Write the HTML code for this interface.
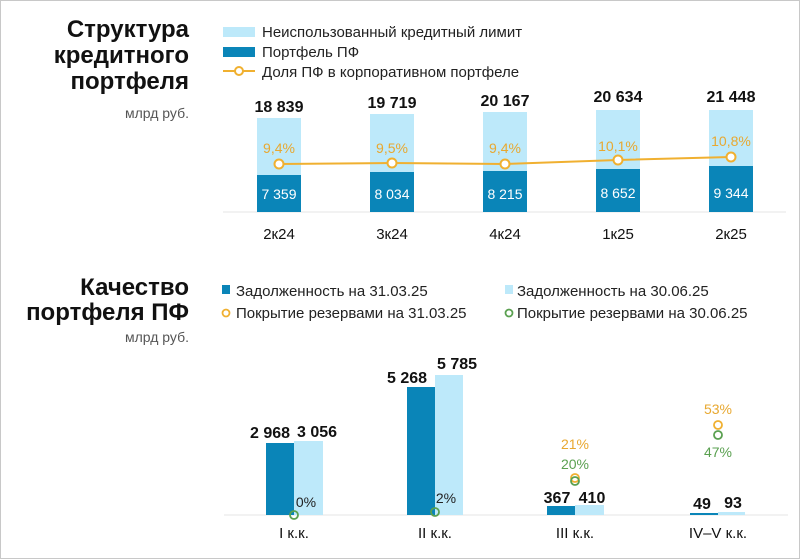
<!DOCTYPE html>
<html><head><meta charset="utf-8"><style>
body{margin:0;background:#fff}
svg{display:block;font-family:"Liberation Sans",sans-serif}
</style></head><body>
<svg width="800" height="559" viewBox="0 0 800 559">
<rect x="0.5" y="0.5" width="799" height="558" fill="#fff" stroke="#c8c8c8"/>
<g font-weight="bold" font-size="24" text-anchor="end" fill="#111">
<text x="189" y="37">Структура</text>
<text x="189" y="63">кредитного</text>
<text x="189" y="89">портфеля</text>
<text x="189" y="295">Качество</text>
<text x="189" y="320">портфеля ПФ</text>
</g>
<g font-size="14" text-anchor="end" fill="#555">
<text x="189" y="118">млрд руб.</text>
<text x="189" y="342">млрд руб.</text>
</g>
<!-- top legend -->
<rect x="223" y="27" width="32" height="10" fill="#bde9fa"/>
<rect x="223" y="47" width="32" height="10" fill="#0a85b8"/>
<line x1="223" y1="71" x2="255" y2="71" stroke="#f0b030" stroke-width="2"/>
<circle cx="239" cy="71" r="4" fill="#fff" stroke="#f0b030" stroke-width="2"/>
<g font-size="15" fill="#222">
<text x="262" y="37">Неиспользованный кредитный лимит</text>
<text x="262" y="57">Портфель ПФ</text>
<text x="262" y="77">Доля ПФ в корпоративном портфеле</text>
</g>
<!-- top bars -->
<line x1="223" y1="212" x2="786" y2="212" stroke="#e4e4e4"/>
<g fill="#bde9fa">
<rect x="257" y="118" width="44" height="94"/>
<rect x="370" y="114" width="44" height="98"/>
<rect x="483" y="112" width="44" height="100"/>
<rect x="596" y="110" width="44" height="102"/>
<rect x="709" y="110" width="44" height="102"/>
</g>
<g fill="#0a85b8">
<rect x="257" y="175" width="44" height="37"/>
<rect x="370" y="172" width="44" height="40"/>
<rect x="483" y="171" width="44" height="41"/>
<rect x="596" y="169" width="44" height="43"/>
<rect x="709" y="166" width="44" height="46"/>
</g>
<polyline points="279,164 392,163 505,164 618,160 731,157" fill="none" stroke="#f0b030" stroke-width="2"/>
<g fill="#fff" stroke="#f0b030" stroke-width="2">
<circle cx="279" cy="164" r="4.5"/><circle cx="392" cy="163" r="4.5"/><circle cx="505" cy="164" r="4.5"/><circle cx="618" cy="160" r="4.5"/><circle cx="731" cy="157" r="4.5"/>
</g>
<g font-size="16" font-weight="bold" text-anchor="middle" fill="#111">
<text x="279" y="112">18 839</text><text x="392" y="108">19 719</text><text x="505" y="106">20 167</text><text x="618" y="102">20 634</text><text x="731" y="102">21 448</text>
</g>
<g font-size="14" text-anchor="middle" fill="#e8a830">
<text x="279" y="153">9,4%</text><text x="392" y="153">9,5%</text><text x="505" y="153">9,4%</text><text x="618" y="151">10,1%</text><text x="731" y="146">10,8%</text>
</g>
<g font-size="14" text-anchor="middle" fill="#fff">
<text x="279" y="199">7 359</text><text x="392" y="199">8 034</text><text x="505" y="199">8 215</text><text x="618" y="198">8 652</text><text x="731" y="198">9 344</text>
</g>
<g font-size="15" text-anchor="middle" fill="#111">
<text x="279" y="239">2к24</text><text x="392" y="239">3к24</text><text x="505" y="239">4к24</text><text x="618" y="239">1к25</text><text x="731" y="239">2к25</text>
</g>
<!-- bottom legend -->
<rect x="222" y="285" width="8" height="9" fill="#0a85b8"/>
<rect x="505" y="285" width="8" height="9" fill="#bde9fa"/>
<circle cx="226" cy="313" r="3.5" fill="none" stroke="#f0b030" stroke-width="1.8"/>
<circle cx="509" cy="313" r="3.5" fill="none" stroke="#5aa050" stroke-width="1.8"/>
<g font-size="15" fill="#222">
<text x="236" y="296">Задолженность на 31.03.25</text>
<text x="517" y="296">Задолженность на 30.06.25</text>
<text x="236" y="318">Покрытие резервами на 31.03.25</text>
<text x="517" y="318">Покрытие резервами на 30.06.25</text>
</g>
<line x1="224" y1="515" x2="788" y2="515" stroke="#e4e4e4"/>
<g fill="#0a85b8">
<rect x="266" y="443" width="28" height="72"/><rect x="407" y="387" width="28" height="128"/><rect x="547" y="506" width="28" height="9"/><rect x="690" y="513" width="28" height="2"/>
</g>
<g fill="#bde9fa">
<rect x="294" y="441" width="29" height="74"/><rect x="435" y="375" width="28" height="140"/><rect x="575" y="505" width="29" height="10"/><rect x="718" y="512" width="27" height="3"/>
</g>
<g font-size="16" font-weight="bold" text-anchor="middle" fill="#111">
<text x="270" y="438">2 968</text><text x="317" y="437">3 056</text><text x="407" y="383">5 268</text><text x="457" y="369">5 785</text><text x="557" y="503">367</text><text x="592" y="503">410</text><text x="702" y="509">49</text><text x="733" y="508">93</text>
</g>
<circle cx="575" cy="478" r="4" fill="none" stroke="#f0b030" stroke-width="1.8"/>
<circle cx="718" cy="425" r="4" fill="none" stroke="#f0b030" stroke-width="1.8"/>
<g fill="none" stroke="#5aa050" stroke-width="1.8">
<circle cx="294" cy="515" r="4"/><circle cx="435" cy="512" r="4"/><circle cx="575" cy="481" r="4"/><circle cx="718" cy="435" r="4"/>
</g>
<g font-size="14" text-anchor="middle">
<text x="306" y="507" fill="#222">0%</text><text x="446" y="503" fill="#222">2%</text>
<text x="575" y="449" fill="#e8a830">21%</text><text x="575" y="469" fill="#5aa050">20%</text>
<text x="718" y="414" fill="#e8a830">53%</text><text x="718" y="457" fill="#5aa050">47%</text>
</g>
<g font-size="15" text-anchor="middle" fill="#111">
<text x="294" y="538">I к.к.</text><text x="435" y="538">II к.к.</text><text x="575" y="538">III к.к.</text><text x="718" y="538">IV–V к.к.</text>
</g>
</svg>
</body></html>
